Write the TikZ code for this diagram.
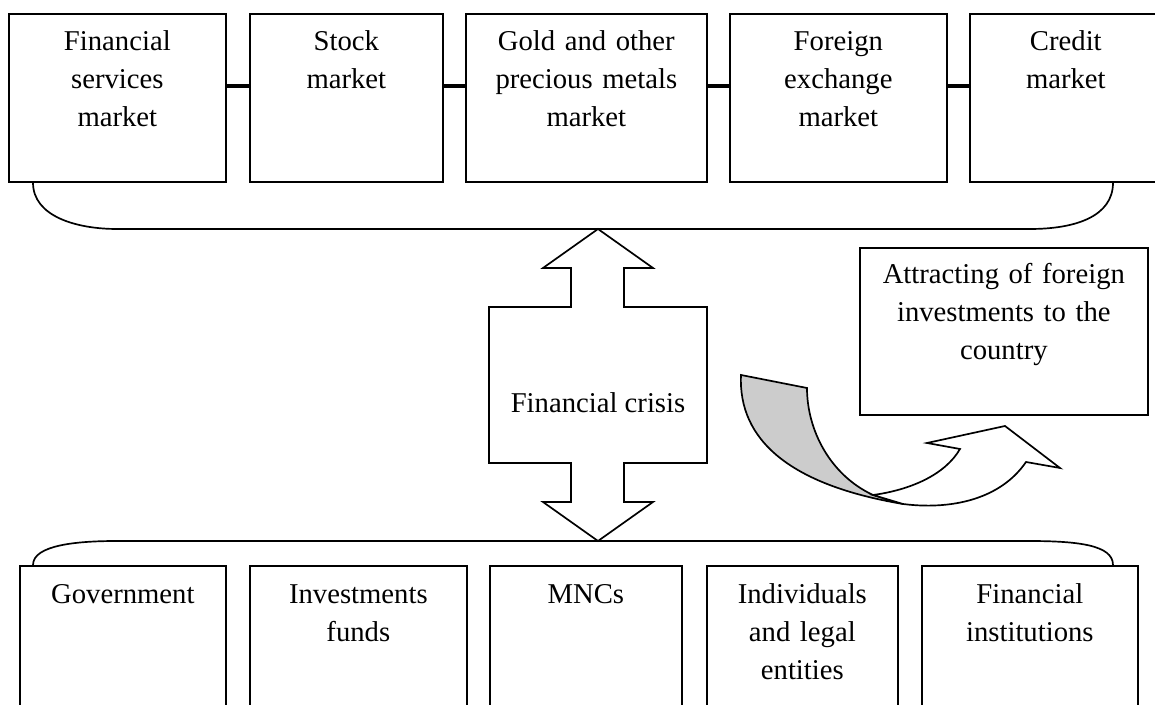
\documentclass[tikz,border=0pt]{standalone}
\usepackage{fontspec}
\setmainfont{Liberation Serif}
\usepackage{tikz}
\usetikzlibrary{positioning}
\newcommand{\boxfont}{\fontsize{10.2}{13.5}\selectfont}
\newcommand{\pxu}{0.0125cm}

\begin{document}
\begin{tikzpicture}[x=0.0125cm, y=-0.0125cm,
	box/.style 2 args={draw, line width=0.6pt, inner sep=0pt, anchor=north west, minimum width=#1*\pxu, minimum height=#2*\pxu},
	lbl/.style={font=\boxfont, align=center, text width=3.8cm, inner sep=0pt, anchor=north, execute at begin node=\strut},
	link/.style={line width=1.2pt},
	brace/.style={line width=0.6pt},
	outline/.style={draw, line width=0.6pt, line join=miter}]
	\useasboundingbox (0,0) rectangle (1155,705);
	\clip (0,0) rectangle (1155,705);
	\fill[white] (0,0) rectangle (1155,705);

	% markets
	\node[box={217}{168}] (fsm) at (8,13) {};
	\node[box={193}{168}] (stock) at (249,13) {};
	\node[box={241}{168}] (gold) at (465,13) {};
	\node[box={217}{168}] (forex) at (729,13) {};
	\node[box={192}{168}] (credit) at (969,13) {};
	\node[lbl, below=3.7pt of fsm.north] (fsmtxt) {Financial\\services\\market};
	\node[lbl, below=3.7pt of stock.north] (stocktxt) {Stock\\market};
	\node[lbl, below=3.7pt of gold.north] (goldtxt) {Gold and other\\precious metals\\market};
	\node[lbl, below=3.7pt of forex.north] (forextxt) {Foreign\\exchange\\market};
	\node[lbl, below=3.7pt of credit.north] (credittxt) {Credit\\market};
	\foreach \a/\b in {fsm/stock,stock/gold,gold/forex,forex/credit}
		\draw[link] ([yshift=12*\pxu]\a.east) -- ([yshift=12*\pxu]\b.west);
	\draw[brace] ([xshift=25*\pxu]fsm.south west) .. controls +(0,34) and +(-40,0) .. (117,229)
		-- (1030,229) .. controls +(45,0) and +(0,34) .. ([xshift=144*\pxu]credit.south west);

	% participants
	\node[box={206}{160}] (gov) at (19,565) {};
	\node[box={217}{160}] (inv) at (249,565) {};
	\node[box={192}{160}] (mnc) at (489,565) {};
	\node[box={191}{160}] (ind) at (706,565) {};
	\node[box={216}{160}] (fin) at (921,565) {};
	\node[lbl, below=4pt of gov.north] (govtxt) {Government};
	\node[lbl, below=4pt of inv.north] (invtxt) {Investments\\funds};
	\node[lbl, below=4pt of mnc.north] (mnctxt) {MNCs};
	\node[lbl, below=4pt of ind.north] (indtxt) {Individuals\\and legal\\entities};
	\node[lbl, below=4pt of fin.north] (fintxt) {Financial\\institutions};
	\draw[brace] ([xshift=14*\pxu]gov.north west) .. controls +(0,-20) and +(-40,0) .. (117,541)
		-- (1028,541) .. controls +(50,0) and +(0,-20) .. ([xshift=192*\pxu]fin.north west);

	% crisis
	\draw[outline, fill=white] (598,229) -- (653,268) -- (624,268) -- (624,307) -- (707,307) -- (707,463)
		-- (624,463) -- (624,502) -- (653,502) -- (598,541) -- (543,502) -- (571,502) -- (571,463)
		-- (489,463) -- (489,307) -- (571,307) -- (571,268) -- (543,268) -- cycle;
	\node[font=\boxfont, inner sep=0pt] (crisis) at (598,403) {Financial crisis};

	% foreign investments
	\node[box={288}{167}] (attract) at (859,247) {};
	\node[lbl, below=3.4pt of attract.north] (attracttxt) {Attracting of foreign\\investments to the\\country};
	\draw[outline, fill=gray!40] (741,375) -- (807,388) .. controls (807,430) and (830,475) .. (873,495)
		-- (903,504) .. controls (790,485) and (738,440) .. (741,375) -- cycle;
	\draw[outline, fill=white] (873,495) .. controls (910,490) and (945,475) .. (960,449) -- (927,443)
		-- (1005,426) -- (1060,468) -- (1026,462) .. controls (1000,500) and (950,510) .. (903,504) -- cycle;
\end{tikzpicture}
\end{document}
